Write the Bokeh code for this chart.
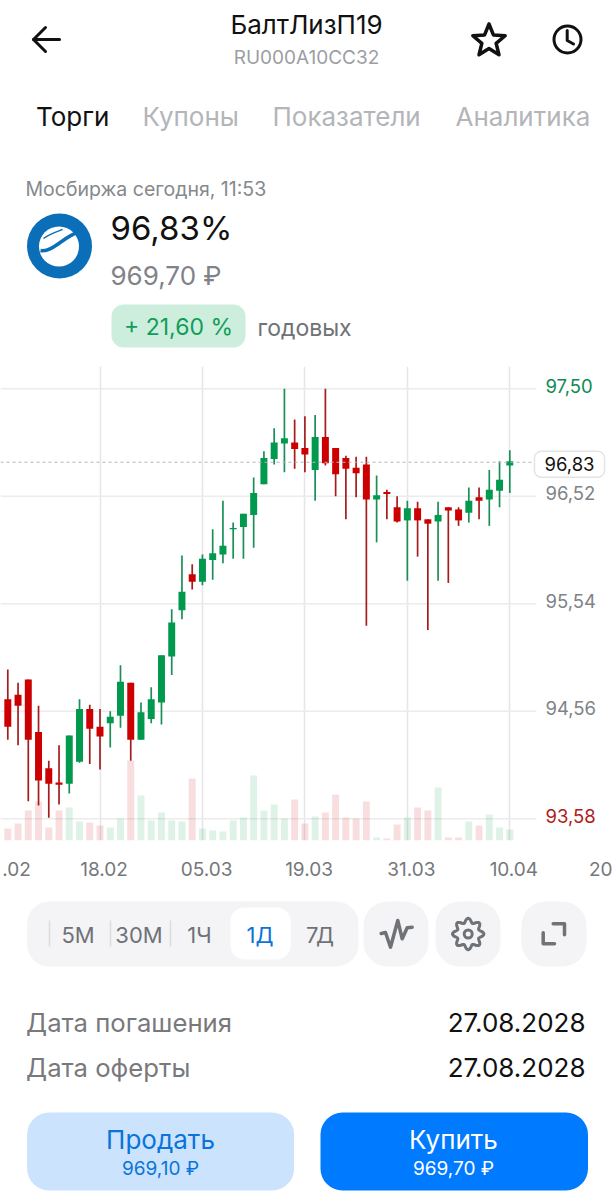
import math
from bokeh.core.properties import value
from bokeh.embed import file_html
from bokeh.layouts import column
from bokeh.models import ColumnDataSource, FixedTicker, Label, Range1d
from bokeh.plotting import figure
from bokeh.resources import INLINE

FONT = "Inter"
GREEN = "#00994d"
RED = "#cc0000"
GREEN_WICK = "#1a8f58"
RED_WICK = "#a61c1c"
BLUE = "#0a74d8"

# daily candles
opens = [94.67, 94.71, 94.85, 94.37, 94.04, 93.91, 93.90, 94.10, 94.58, 94.42,
         94.45, 94.52, 94.82, 94.30, 94.49, 94.64, 95.06, 95.48, 95.81, 95.74,
         95.94, 95.99, 96.22, 96.24, 96.35, 96.63, 96.86, 97.00, 97.01, 96.96,
         96.76, 97.06, 96.96, 96.87, 96.78, 96.81, 96.49, 96.56, 96.42, 96.30,
         96.41, 96.31, 96.29, 96.42, 96.40, 96.37, 96.51, 96.49, 96.57, 96.80]
closes = [94.42, 94.61, 94.30, 93.93, 93.90, 93.89, 94.34, 94.58, 94.40, 94.33,
          94.51, 94.83, 94.30, 94.55, 94.67, 95.07, 95.37, 95.65, 95.74, 95.95,
          96.00, 96.07, 96.23, 96.36, 96.55, 96.87, 97.01, 97.05, 96.95, 96.90,
          97.06, 96.82, 96.72, 96.77, 96.73, 96.49, 96.53, 96.54, 96.29, 96.41,
          96.30, 96.27, 96.35, 96.39, 96.30, 96.48, 96.48, 96.58, 96.67, 96.84]
highs = [94.94, 94.82, 94.85, 94.61, 94.11, 94.25, 94.34, 94.67, 94.62, 94.58,
         94.56, 94.98, 94.82, 94.64, 94.78, 95.07, 95.49, 95.98, 95.90, 95.99,
         96.22, 96.48, 96.28, 96.36, 96.69, 96.93, 97.14, 97.50, 97.22, 97.25,
         97.26, 97.50, 96.96, 96.89, 96.88, 96.88, 96.71, 96.58, 96.52, 96.48,
         96.47, 96.31, 96.47, 96.42, 96.42, 96.60, 96.60, 96.76, 96.84, 96.94]
lows = [94.30, 94.25, 93.74, 93.70, 93.59, 93.71, 93.81, 94.09, 94.08, 94.03,
        94.23, 94.41, 94.11, 94.30, 94.45, 94.44, 94.89, 95.40, 95.67, 95.71,
        95.76, 95.91, 95.95, 95.95, 96.05, 96.63, 96.81, 96.74, 96.77, 96.74,
        96.48, 96.80, 96.52, 96.31, 96.51, 95.34, 96.10, 96.31, 96.28, 95.75,
        95.97, 95.30, 95.75, 95.73, 96.25, 96.28, 96.31, 96.25, 96.42, 96.55]
volumes = [12, 17, 30, 39, 13, 30, 33, 19, 18, 15,
           13, 22, 80, 45, 20, 28, 20, 19, 62, 12,
           10, 9, 20, 23, 65, 30, 36, 22, 41, 17,
           24, 28, 46, 23, 22, 39, 3, 2, 16, 23,
           33, 30, 53, 3, 3, 19, 15, 26, 13, 11]

grid_pos = [9, 19, 29, 39, 49]
date_pos = [0.85, 9.4, 19.4, 29.4, 39.4, 49.4, 58.1]
date_labels = [".02", "18.02", "05.03", "19.03", "31.03", "10.04", "20"]
price_ticks = [97.50, 96.52, 95.54, 94.56, 93.58]
price_labels = ["97,50", "96,52", "95,54", "94,56", "93,58"]
last_price = 96.83
intervals = ["5М", "30М", "1Ч", "1Д", "7Д"]


def ui_figure(height, top, bottom):
    # page chrome, drawn in the pixel coordinates of the screenshot
    f = figure(width=612, height=height, x_range=Range1d(0, 612), y_range=Range1d(bottom, top),
               output_backend="svg", toolbar_location=None, x_axis_location=None, y_axis_location=None,
               min_border=0, outline_line_color=None)
    f.xgrid.visible = False
    f.ygrid.visible = False
    return f


def txt(f, x, y, s, size, color, align="left", style="normal"):
    f.text([x], [y], text=[s], text_font=value(FONT), text_font_size=f"{size}px", text_color=color,
           text_align=align, text_baseline="middle", text_font_style=style)


def box(f, x0, x1, y0, y1, color, radius):
    f.quad(left=[x0], right=[x1], top=[y0], bottom=[y1], fill_color=color, line_color=None,
           border_radius=radius)


def stroke(f, xs, ys, color, width):
    f.line(xs, ys, line_color=color, line_width=width, line_cap="round", line_join="round")


# top part
head = ui_figure(366, 0, 366)
stroke(head, [45, 33, 45], [27, 39, 51], "#111111", 3)
stroke(head, [33, 59], [39, 39], "#111111", 3)
txt(head, 306, 24, "БалтЛизП19", 26, "#111111", "center")
txt(head, 306, 57, "RU000A10CC32", 19, "#9b9ea3", "center")

star_x, star_y = [], []
for i in range(11):
    r = 17 if i % 2 == 0 else 7.5
    a = -math.pi / 2 + i * math.pi / 5
    star_x.append(488.5 + r * math.cos(a))
    star_y.append(40.5 + r * math.sin(a))
stroke(head, star_x, star_y, "#111111", 3.5)

head.circle([567], [39], radius=13.5, fill_color=None, line_color="#111111", line_width=3)
stroke(head, [566.7, 566.7, 573], [30, 40, 43.5], "#111111", 3)

txt(head, 35.5, 116, "Торги", 26, "#111111")
txt(head, 142, 116, "Купоны", 26, "#b3b5b8")
txt(head, 272, 116, "Показатели", 26, "#b3b5b8")
txt(head, 455, 116, "Аналитика", 26, "#b3b5b8")

txt(head, 25, 188, "Мосбиржа сегодня, 11:53", 19.5, "#85888c")
head.circle([59], [245.5], radius=32.5, fill_color="#0a6fb8", line_color=None)
head.circle([58.5], [246], radius=20, fill_color="white", line_color=None)
head.bezier([40], [250], [77], [232], [52], [252], [62], [237], line_color="#0a6fb8", line_width=3.5)
head.bezier([43], [238], [62], [229], [48], [234], [54], [232], line_color="#0a6fb8", line_width=1.5)
txt(head, 110, 227, "96,83%", 33, "#111111")
txt(head, 110, 275, "969,70 ₽", 26, "#808387")
box(head, 111, 245, 304, 347, "#cdeedd", 12)
txt(head, 178, 326, "+ 21,60 %", 23, "#0f9d58", "center")
txt(head, 257, 327, "годовых", 23, "#6f7276")

# chart: 10.245 px per candle and 109.7 px per price unit, frame spans x 0..612 and y 366..840
x_start, x_end = -0.7125, 59.025
grid_end = 51.6
p = figure(width=612, height=514, x_range=Range1d(x_start, x_end), y_range=Range1d(93.382, 97.703),
           output_backend="svg", toolbar_location=None, min_border_left=0, min_border_right=0,
           min_border_top=0, min_border_bottom=40, outline_line_color=None, y_axis_location=None)
p.extra_y_ranges = {"volume": Range1d(0, 474)}

p.xgrid.ticker = FixedTicker(ticks=grid_pos)
p.xgrid.grid_line_color = "#e6e6e8"
p.xgrid.grid_line_width = 1.6
p.ygrid.visible = False
# horizontal lines stop short of the price column
p.segment(x0=[x_start] * len(price_ticks), y0=price_ticks, x1=[grid_end] * len(price_ticks), y1=price_ticks,
          line_color="#ececee", line_width=1.5)

p.xaxis.ticker = FixedTicker(ticks=date_pos)
p.xaxis.major_label_overrides = dict(zip(date_pos, date_labels))
p.xaxis.axis_line_color = None
p.xaxis.major_tick_line_color = None
p.xaxis.minor_tick_line_color = None
p.xaxis.major_label_standoff = 15
p.xaxis.major_label_text_font = FONT
p.xaxis.major_label_text_font_size = "19px"
p.xaxis.major_label_text_color = "#74777b"

idx = list(range(len(opens)))
body_top = [max(o, c) for o, c in zip(opens, closes)]
body_bottom = [min(o, c) for o, c in zip(opens, closes)]
up = [c >= o for o, c in zip(opens, closes)]
source = ColumnDataSource(dict(
    idx=idx, high=highs, low=lows, top=body_top, bottom=body_bottom, volume=volumes,
    color=[GREEN if u else RED for u in up],
    wick=[GREEN_WICK if u else RED_WICK for u in up],
))

p.vbar(x="idx", top="volume", bottom=0, width=0.68, source=source, y_range_name="volume",
       fill_color="color", fill_alpha=0.13, line_color=None)
p.segment(x0="idx", y0="high", x1="idx", y1="low", source=source, line_color="wick", line_width=1.7)
p.vbar(x="idx", top="top", bottom="bottom", width=0.68, source=source, fill_color="color", line_color=None)

p.line([x_start, grid_end], [last_price, last_price], line_color="#b5b7ba", line_width=1, line_dash=[3, 3])

label_colors = ["#0f8a50", "#808387", "#808387", "#808387", "#b01c1c"]
for tick, s, c in zip(price_ticks, price_labels, label_colors):
    p.add_layout(Label(x=grid_end, y=tick, x_offset=9, y_offset=3, text=s, text_font=FONT, text_font_size="18.5px",
                       text_color=c, text_baseline="middle"))
p.add_layout(Label(x=grid_end, y=last_price, x_offset=-2, y_offset=-2, text="96,83", text_font=FONT,
                   text_font_size="18.5px", text_color="#111111", text_baseline="middle",
                   background_fill_color="white", border_line_color="#e3e4e6", border_line_width=1.5,
                   border_radius=7, padding=(10, 6)))

# bottom part
foot = ui_figure(320, 880, 1200)
box(foot, 26.6, 358, 901, 966, "#f4f4f6", 22)
box(foot, 230, 290, 907, 959, "white", 14)
for x in [49, 110, 170]:
    foot.line([x, x], [920, 946], line_color="#dcdcdf", line_width=1.5)
for x, s in zip([77.5, 138.5, 199, 259.5, 319.5], intervals):
    txt(foot, x, 934, s, 22, BLUE if s == "1Д" else "#6f7276", "center")

for x0, x1 in [(363, 428), (435, 500), (521, 586)]:
    box(foot, x0, x1, 901, 966, "#f4f4f6", 24)
stroke(foot, [380.7, 385, 390, 397.3, 401.7, 406.7, 411.7], [933, 932, 946.7, 920, 938.3, 927.3, 926.7], "#6f7276", 3.5)
gear_a = [i * 2 * math.pi / 96 for i in range(97)]
stroke(foot, [467.7 + (13.5 + 2.2 * math.cos(8 * a)) * math.cos(a) for a in gear_a],
       [933.5 + (13.5 + 2.2 * math.cos(8 * a)) * math.sin(a) for a in gear_a], "#6f7276", 3)
foot.circle([467.7], [933.5], radius=4, fill_color=None, line_color="#6f7276", line_width=3)
stroke(foot, [552.7, 564, 564], [923.3, 923.3, 934.3], "#6f7276", 3.5)
stroke(foot, [542.7, 542.7, 554], [932.3, 943.3, 943.3], "#6f7276", 3.5)

txt(foot, 25.6, 1022, "Дата погашения", 25.7, "#77797d")
txt(foot, 25.6, 1067, "Дата оферты", 25.7, "#77797d")
txt(foot, 585, 1022, "27.08.2028", 26, "#111111", "right")
txt(foot, 585, 1067, "27.08.2028", 26, "#111111", "right")

box(foot, 26.6, 293.6, 1112, 1190, "#cce3fd", 22)
box(foot, 320, 587.5, 1112, 1190, "#007aff", 22)
txt(foot, 160, 1139, "Продать", 26, BLUE, "center")
txt(foot, 160, 1168, "969,10 ₽", 19, BLUE, "center")
txt(foot, 453, 1139, "Купить", 26, "white", "center")
txt(foot, 453, 1168, "969,70 ₽", 19, "white", "center")

page = column(head, p, foot, spacing=0)
open("out.html", "w").write(file_html(page, INLINE))
